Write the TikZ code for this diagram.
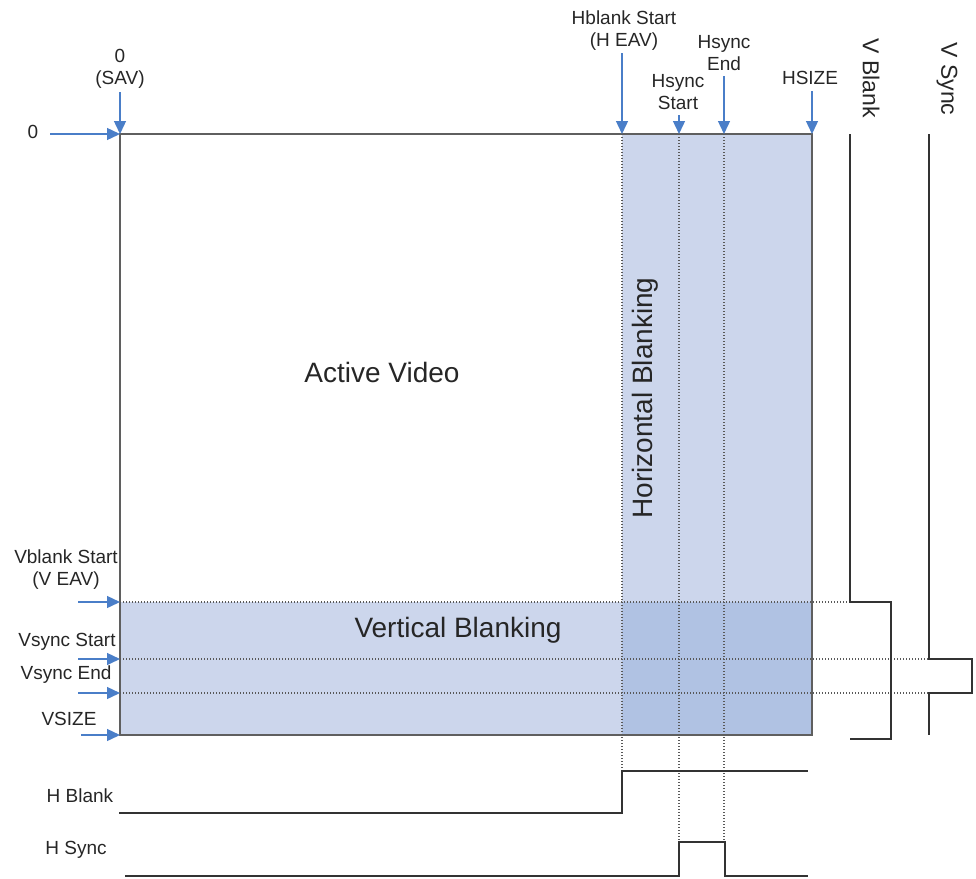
\documentclass[tikz,border=0pt]{standalone}
\usepackage{fontspec}
\setmainfont{Liberation Sans}
\usetikzlibrary{arrows.meta}
\definecolor{hbfill}{RGB}{204,214,236}
\definecolor{ovfill}{RGB}{176,194,227}
\definecolor{arrowblue}{RGB}{74,126,200}
\definecolor{txt}{RGB}{38,38,38}
\definecolor{edge}{RGB}{95,95,95}
\tikzset{
  lbl/.style={font=\fontsize{19}{22}\selectfont, text=txt, inner sep=0pt, align=center},
  vlbl/.style={font=\fontsize{23}{26}\selectfont, text=txt, inner sep=0pt, rotate=-90},
  big/.style={font=\fontsize{28}{30}\selectfont, text=txt, inner sep=0pt},
  marker/.style={draw=arrowblue, line width=1.4pt, -{Triangle[length=13pt,width=12pt]}},
  guide/.style={draw=black!65, line width=1.4pt, dash pattern=on 1.4pt off 1.6pt},
  wave/.style={draw=black!80, line width=1.5pt},
  frame/.style={draw=edge, line width=1.4pt},
}
\begin{document}
\begin{tikzpicture}[x=1pt,y=-1pt]
\useasboundingbox (0,0) rectangle (976,878);

% key coordinates
\coordinate (tl) at (120,134);
\coordinate (tr) at (812,134);
\coordinate (br) at (812,735);
\coordinate (bl) at (120,735);

% blanking regions
\fill[hbfill] (622,134) rectangle (812,735);
\fill[hbfill] (120,602) rectangle (812,735);
\fill[ovfill] (622,602) rectangle (812,735);
\draw[frame] (bl) -- (tl) -- (tr) -- (br) -- cycle;

% guide lines
\draw[guide] (622,134) -- (622,771);
\draw[guide] (679,134) -- (679,842);
\draw[guide] (724,134) -- (724,842);
\draw[guide] (120,602) -- (850,602);
\draw[guide] (120,659) -- (929,659);
\draw[guide] (120,693) -- (929,693);

% region labels
\node[big] (active) at (382,372) {Active Video};
\node[big, rotate=90] (hblank) at (645,398) {Horizontal Blanking};
\node[big] (vblank) at (458,630) {Vertical Blanking};

% top markers
\node[lbl] (sav) at (120,69) {0\\(SAV)};
\coordinate (savs) at (120,92);
\draw[marker] (savs) -- (tl);

\node[lbl] (heav) at (624,31) {Hblank Start\\(H EAV)};
\coordinate (heavs) at (622,53);
\coordinate (heave) at (622,134);
\draw[marker] (heavs) -- (heave);

\node[lbl] (hss) at (678,92) {Hsync\\Start};
\coordinate (hsss) at (679,115);
\coordinate (hsse) at (679,134);
\draw[marker] (hsss) -- (hsse);

\node[lbl] (hse) at (724,53) {Hsync\\End};
\coordinate (hses) at (724,76);
\coordinate (hsee) at (724,134);
\draw[marker] (hses) -- (hsee);

\node[lbl] (hsize) at (810,78) {HSIZE};
\coordinate (hsizes) at (812,91);
\draw[marker] (hsizes) -- (tr);

% left markers
\node[lbl] (zero) at (33,132) {0};
\coordinate (zeros) at (50,134);
\draw[marker] (zeros) -- (tl);

\node[lbl] (veav) at (66,570) {Vblank Start\\(V EAV)};
\coordinate (veavs) at (78,602);
\coordinate (veave) at (120,602);
\draw[marker] (veavs) -- (veave);

\node[lbl] (vss) at (67,642) {Vsync Start};
\coordinate (vsss) at (78,659);
\coordinate (vsse) at (120,659);
\draw[marker] (vsss) -- (vsse);

\node[lbl] (vse) at (66,675) {Vsync End};
\coordinate (vses) at (78,693);
\coordinate (vsee) at (120,693);
\draw[marker] (vses) -- (vsee);

\node[lbl] (vsize) at (69,719) {VSIZE};
\coordinate (vsizes) at (81,735);
\draw[marker] (vsizes) -- (bl);

% right waveforms
\node[vlbl] (vbl) at (871,78) {V Blank};
\node[vlbl] (vsy) at (947,79) {V Sync};
\draw[wave] (850,134) -- (850,602) -- (891,602) -- (891,739) -- (850,739);
\draw[wave] (929,134) -- (929,659) -- (972,659) -- (972,693) -- (929,693) -- (929,735);

% bottom waveforms
\node[lbl] (hbl) at (80,796) {H Blank};
\node[lbl] (hsy) at (76,850) {H Sync};
\draw[wave] (119,813) -- (622,813) -- (622,771) -- (808,771);
\draw[wave] (125,876) -- (679,876) -- (679,842) -- (725,842) -- (725,876) -- (808,876);
\end{tikzpicture}
\end{document}
